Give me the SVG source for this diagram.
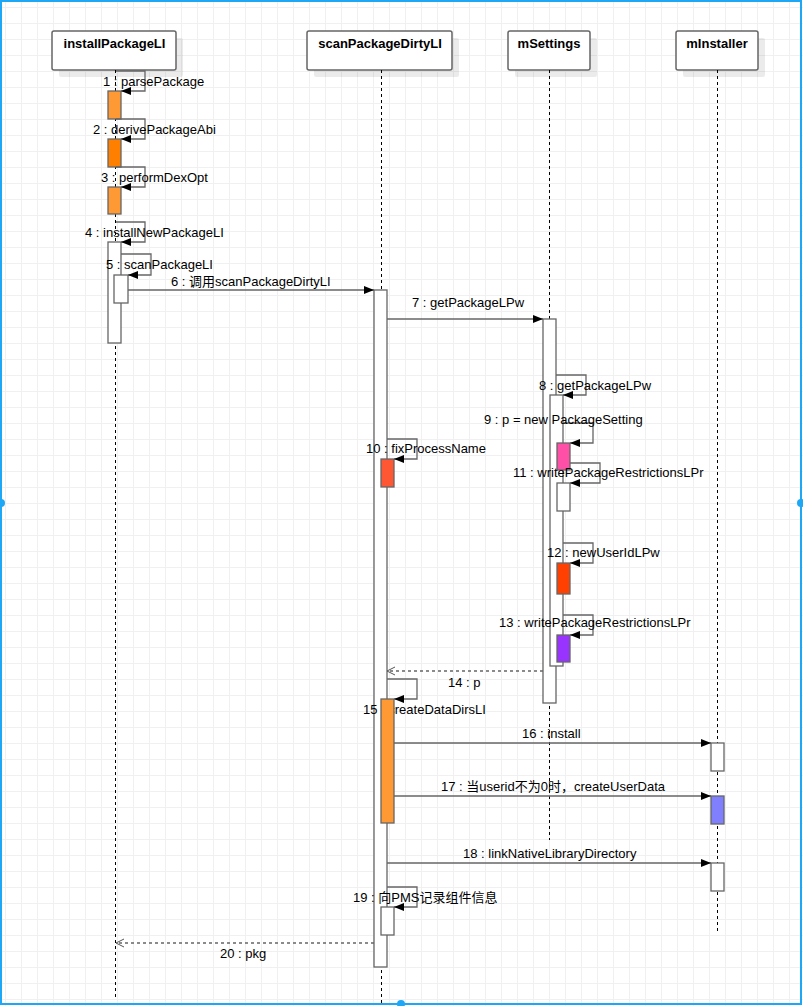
<svg xmlns="http://www.w3.org/2000/svg" width="803" height="1006" viewBox="0 0 803 1006">
<style>
.head{fill:#fff;stroke:#666;stroke-width:1.5}
.shadow{fill:#000;fill-opacity:0.08}
.title{font-family:"Liberation Sans",Arial,sans-serif;font-size:13px;font-weight:bold;fill:#000;text-anchor:middle}
.life{stroke:#000;stroke-width:1;stroke-dasharray:3 3;fill:none}
.act{stroke:#666;stroke-width:1.3}
.msg{fill:none;stroke:#666;stroke-width:1.3}
.ret{fill:none;stroke:#666;stroke-width:1.3;stroke-dasharray:3 3}
.lbl{font-family:"Liberation Sans",Arial,"Noto Sans CJK SC",sans-serif;font-size:13px;fill:#000}
</style>
<defs>
<pattern id="grid" width="16" height="16" patternUnits="userSpaceOnUse" x="5" y="7">
<path d="M0.5 0 V16 M0 0.5 H16" fill="none" stroke="#f0f0f0" stroke-width="1"/>
</pattern>
<marker id="arr" markerWidth="11" markerHeight="8" refX="10" refY="4" orient="auto" markerUnits="userSpaceOnUse">
<path d="M0,0 L10,4 L0,8 Z" fill="#000"/>
</marker>
<marker id="open" markerWidth="10" markerHeight="10" refX="9" refY="5" orient="auto" markerUnits="userSpaceOnUse">
<path d="M1,1 L9,5 L1,9" fill="none" stroke="#555" stroke-width="1"/>
</marker>
</defs>
<rect x="0" y="0" width="803" height="1006" fill="#fff"/>
<rect x="0" y="0" width="803" height="1006" fill="url(#grid)"/>

<g id="lifeline-installPackageLI">
<rect class="shadow" x="59" y="38" width="124" height="39" rx="2"/>
<rect class="head" x="52" y="31" width="124" height="39" rx="2"/>
<text class="title" x="114.5" y="48">installPackageLI</text>
<line class="life" x1="115.5" y1="70" x2="115.5" y2="997"/>
<rect class="act" x="108" y="91" width="13" height="28" fill="#ff9933"/>
<rect class="act" x="108" y="139" width="13" height="28" fill="#ff8000"/>
<rect class="act" x="108" y="187" width="13" height="27" fill="#ff9933"/>
<rect class="act" x="108" y="242" width="13" height="101" fill="#fff"/>
<rect class="act" x="114" y="275" width="14" height="28" fill="#fff"/>
</g>

<g id="lifeline-scanPackageDirtyLI">
<rect class="shadow" x="314" y="38" width="145" height="39" rx="2"/>
<rect class="head" x="307" y="31" width="145" height="39" rx="2"/>
<text class="title" x="380" y="48">scanPackageDirtyLI</text>
<line class="life" x1="381.5" y1="70" x2="381.5" y2="1004"/>
<rect class="act" x="374" y="290" width="13" height="677" fill="#fff"/>
<rect class="act" x="381" y="459" width="13" height="28" fill="#ff5733"/>
<rect class="act" x="381" y="907" width="13" height="28" fill="#fff"/>
</g>

<g id="lifeline-mSettings">
<rect class="shadow" x="515" y="38" width="82" height="39" rx="2"/>
<rect class="head" x="508" y="31" width="82" height="39" rx="2"/>
<text class="title" x="549" y="48">mSettings</text>
<line class="life" x1="549.5" y1="70" x2="549.5" y2="840"/>
<rect class="act" x="543" y="319" width="13" height="384" fill="#fff"/>
<rect class="act" x="550" y="395" width="13" height="271" fill="#fff"/>
<rect class="act" x="557" y="443" width="13" height="27" fill="#ff4fa7"/>
<rect class="act" x="557" y="483" width="13" height="28" fill="#fff"/>
<rect class="act" x="557" y="563" width="13" height="31" fill="#ff4000"/>
<rect class="act" x="557" y="635" width="13" height="27" fill="#9933ff"/>
</g>

<g id="lifeline-mInstaller">
<rect class="shadow" x="683" y="38" width="82" height="39" rx="2"/>
<rect class="head" x="676" y="31" width="82" height="39" rx="2"/>
<text class="title" x="717" y="48">mInstaller</text>
<line class="life" x1="717.5" y1="70" x2="717.5" y2="932"/>
<rect class="act" x="711" y="743" width="13" height="28" fill="#fff"/>
<rect class="act" x="711" y="796" width="13" height="28" fill="#8080ff"/>
<rect class="act" x="711" y="863" width="13" height="28" fill="#fff"/>
</g>

<g id="connectors">
<path class="msg" d="M116,71 H145 V91 H121" marker-end="url(#arr)"/>
<path class="msg" d="M116,119 H145 V139 H121" marker-end="url(#arr)"/>
<path class="msg" d="M116,167 H145 V187 H121" marker-end="url(#arr)"/>
<path class="msg" d="M116,222 H145 V242 H121" marker-end="url(#arr)"/>
<path class="msg" d="M121,254 H151 V275 H128" marker-end="url(#arr)"/>
<path class="msg" d="M128,290 H374" marker-end="url(#arr)"/>
<path class="msg" d="M387,319 H543" marker-end="url(#arr)"/>
<path class="msg" d="M556,375 H586 V395 H563" marker-end="url(#arr)"/>
<path class="msg" d="M563,423 H593 V443 H570" marker-end="url(#arr)"/>
<path class="msg" d="M387,439 H417 V459 H394" marker-end="url(#arr)"/>
<path class="msg" d="M570,463 H600 V483 H570" marker-end="url(#arr)"/>
<path class="msg" d="M563,543 H593 V563 H570" marker-end="url(#arr)"/>
<path class="msg" d="M563,615 H593 V635 H570" marker-end="url(#arr)"/>
<path class="ret" d="M543,671 H387" marker-end="url(#open)"/>
<path class="msg" d="M387,679 H417 V699 H394" marker-end="url(#arr)"/>
<path class="msg" d="M394,743 H711" marker-end="url(#arr)"/>
<path class="msg" d="M394,796 H711" marker-end="url(#arr)"/>
<path class="msg" d="M387,863 H711" marker-end="url(#arr)"/>
<path class="msg" d="M387,887 H417 V907 H394" marker-end="url(#arr)"/>
<path class="ret" d="M374,943 H116" marker-end="url(#open)"/>

<text class="lbl" x="103" y="86">1 : parsePackage</text>
<text class="lbl" x="93" y="134">2 : derivePackageAbi</text>
<text class="lbl" x="101" y="182">3 : performDexOpt</text>
<text class="lbl" x="85" y="237">4 : installNewPackageLI</text>
<text class="lbl" x="106" y="269">5 : scanPackageLI</text>
<text class="lbl" x="171" y="286">6 : 调用scanPackageDirtyLI</text>
<text class="lbl" x="412" y="307">7 : getPackageLPw</text>
<text class="lbl" x="539" y="390">8 : getPackageLPw</text>
<text class="lbl" x="484" y="424">9 : p = new PackageSetting</text>
<text class="lbl" x="366" y="453">10 : fixProcessName</text>
<text class="lbl" x="513" y="477">11 : writePackageRestrictionsLPr</text>
<text class="lbl" x="547" y="557">12 : newUserIdLPw</text>
<text class="lbl" x="499" y="627">13 : writePackageRestrictionsLPr</text>
<text class="lbl" x="448" y="687">14 : p</text>
<text class="lbl" x="363" y="714">15 : createDataDirsLI</text>
<text class="lbl" x="522" y="738">16 : install</text>
<text class="lbl" x="441" y="791">17 : 当userid不为0时，createUserData</text>
<text class="lbl" x="463" y="858">18 : linkNativeLibraryDirectory</text>
<text class="lbl" x="353" y="902">19 : 向PMS记录组件信息</text>
<text class="lbl" x="220" y="958">20 : pkg</text>
</g>

<g id="activation-createDataDirsLI">
<rect class="act" x="381" y="699" width="13" height="124" fill="#ff9933"/>
</g>

<g id="selection-frame">
<rect x="1" y="1" width="800" height="1003" fill="none" stroke="#1ea7f5" stroke-width="2"/>
<circle cx="1" cy="503" r="4" fill="#1ea7f5"/>
<circle cx="801" cy="503" r="4" fill="#1ea7f5"/>
<circle cx="401" cy="1004" r="4" fill="#1ea7f5"/>
</g>
</svg>
